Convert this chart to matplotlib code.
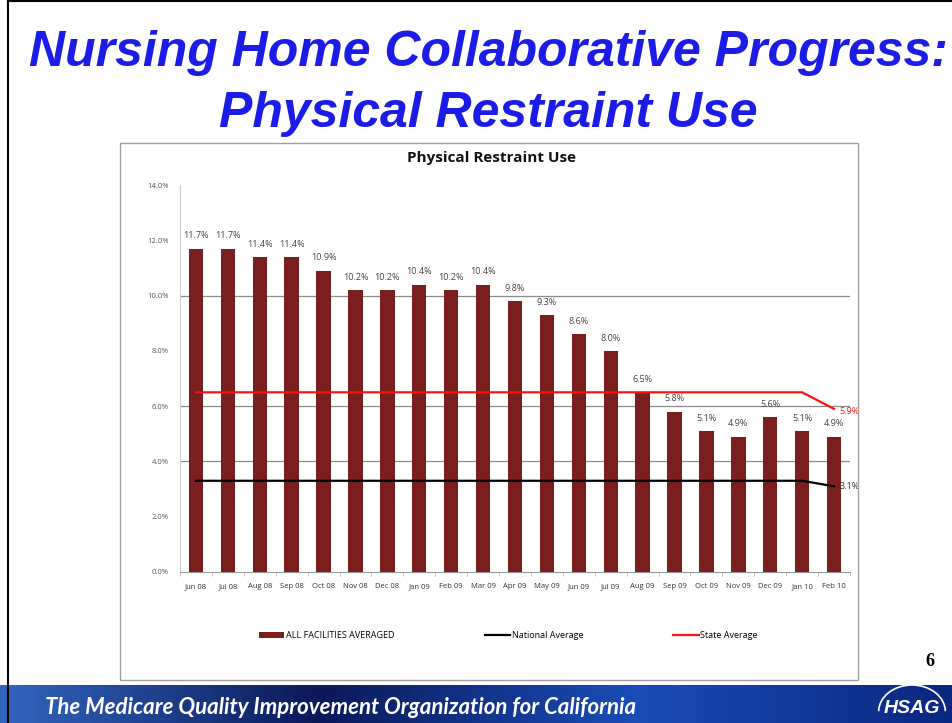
import numpy as np
import matplotlib
matplotlib.use("Agg")
import matplotlib.pyplot as plt
from matplotlib.patches import Rectangle, Arc

months = ["Jun 08", "Jul 08", "Aug 08", "Sep 08", "Oct 08", "Nov 08", "Dec 08",
          "Jan 09", "Feb 09", "Mar 09", "Apr 09", "May 09", "Jun 09", "Jul 09",
          "Aug 09", "Sep 09", "Oct 09", "Nov 09", "Dec 09", "Jan 10", "Feb 10"]
facilities = [11.7, 11.7, 11.4, 11.4, 10.9, 10.2, 10.2, 10.4, 10.2, 10.4, 9.8,
              9.3, 8.6, 8.0, 6.5, 5.8, 5.1, 4.9, 5.6, 5.1, 4.9]
national = [3.3] * 20 + [3.1]
state = [6.5] * 20 + [5.9]

W, H = 953, 723
fig = plt.figure(figsize=(W / 100, H / 100), dpi=100)
fig.patch.set_facecolor("white")

def fx(px):
    return px / W

def fy(py):
    return 1 - py / H

# slide border
fig.add_artist(plt.Line2D([fx(8), fx(8)], [fy(0), fy(685)], color="black", lw=1.5))
fig.add_artist(plt.Line2D([fx(8), 1], [fy(1), fy(1)], color="black", lw=1.5))

# slide title
title_kw = dict(ha="center", va="center", color="#1c1ce8", fontsize=36,
                fontweight="bold", fontstyle="italic", family="Liberation Sans")
fig.text(fx(488), fy(53), "Nursing Home Collaborative Progress:", **title_kw)
fig.text(fx(488), fy(114), "Physical Restraint Use", **title_kw)

# chart box
fig.add_artist(Rectangle((fx(120), fy(680)), fx(858) - fx(120), fy(143) - fy(680),
                         transform=fig.transFigure, fill=False, ec="#a0a0a0", lw=1))
fig.text(fx(492), fy(158), "Physical Restraint Use", ha="center", va="center",
         fontsize=11, fontweight="bold", family="Open Sans", color="#111111")

ax = fig.add_axes([fx(180), fy(572), fx(850) - fx(180), fy(185) - fy(572)])
x = np.arange(len(months))
b = ax.bar(x, facilities, width=0.45, color="#7a1e1e", zorder=3)
ln_nat, = ax.plot(x, national, color="black", lw=1.6, zorder=4)
ln_st, = ax.plot(x, state, color="#ff1010", lw=1.6, zorder=4)

for xi, v in zip(x, facilities):
    ax.annotate(f"{v:.1f}%", (xi, v), xytext=(0, 6), textcoords="offset points",
                ha="center", va="bottom", fontsize=6.5, color="#444444",
                family="Open Sans")
ax.annotate(f"{state[-1]:.1f}%", (x[-1], state[-1]), xytext=(4, -2),
            textcoords="offset points", ha="left", va="center", fontsize=6.5,
            color="#ff1010", family="Open Sans")
ax.annotate(f"{national[-1]:.1f}%", (x[-1], national[-1]), xytext=(4, 0),
            textcoords="offset points", ha="left", va="center", fontsize=6.5,
            color="#333333", family="Open Sans")

ax.set_xlim(-0.5, len(months) - 0.5)
ax.set_ylim(0, 14)
ax.set_yticks(np.arange(0, 15, 2))
ax.set_yticklabels([f"{t:.1f}%" for t in np.arange(0, 15, 2)], fontsize=5.5,
                   color="#555555", family="Open Sans")
ax.set_xticks(x)
ax.set_xticklabels(months, fontsize=5.5, color="#333333", family="Open Sans")
ax.set_xticks(np.arange(-0.5, len(months), 1), minor=True)
ax.tick_params(axis="both", which="major", length=0, pad=8)
ax.tick_params(axis="x", which="minor", length=3, color="#bbbbbb")
for g in [4, 6, 10]:
    ax.axhline(g, color="#8a8a8a", lw=0.9, zorder=1)
for s in ["top", "right"]:
    ax.spines[s].set_visible(False)
ax.spines["left"].set_color("#cccccc")
ax.spines["bottom"].set_color("#999999")

ax.legend([b, ln_nat, ln_st],
          ["ALL FACILITIES AVERAGED", "National Average", "State Average"],
          loc="center", bbox_to_anchor=(0.49, -0.165), ncol=3, frameon=False,
          columnspacing=10, handlelength=2.8, handletextpad=0.2,
          prop={"family": "Open Sans", "size": 6.5})

# slide number
fig.text(fx(930), fy(662), "6", ha="center", va="center", fontsize=13,
         fontweight="bold", family="Liberation Serif")

# footer banner
bax = fig.add_axes([0, 0, 1, fy(685)])
grad = np.linspace(0, 1, 300)
cols = np.array([[0.20, 0.40, 0.75], [0.04, 0.10, 0.35], [0.10, 0.30, 0.72],
                 [0.04, 0.15, 0.50]])
pos = np.linspace(0, 1, len(cols))
img = np.stack([np.interp(grad, pos, cols[:, i]) for i in range(3)], axis=-1)
bax.imshow(img[None, :, :], aspect="auto", extent=[0, 1, 0, 1])
bax.set_xlim(0, 1)
bax.set_ylim(0, 1)
bax.axis("off")
bax.text(fx(45), 0.42, "The Medicare Quality Improvement Organization for California",
         color="white", fontsize=16, fontweight="bold", fontstyle="italic",
         family="Lato", va="center", ha="left")
bax.text(fx(912), 0.38, "HSAG", color="white", fontsize=14, fontweight="bold",
         fontstyle="italic", family="Liberation Sans", va="center", ha="center")
bax.add_patch(Arc((fx(912), 0.3), 0.07, 1.4, theta1=20, theta2=160,
                  color="white", lw=1.2))
fig.add_artist(plt.Line2D([fx(8), fx(8)], [0, fy(685)], color="black", lw=1.5))

fig.savefig("out.png", dpi=100)
